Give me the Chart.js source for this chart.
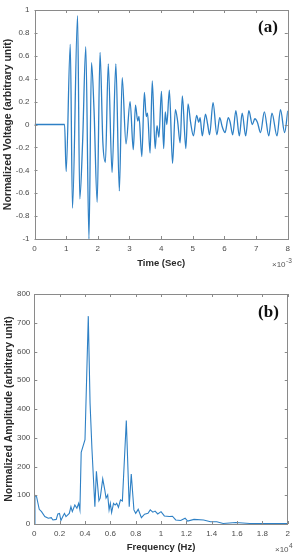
<!DOCTYPE html>
<html lang="en">
<head>
    <meta charset="UTF-8"/>
    <script src="https://cdn.jsdelivr.net/npm/chart.js@4.4.0/dist/chart.umd.min.js"></script>
    <title>signal</title>
    <style>
        body { margin: 0; background: #fff; }
        canvas { display: block; }
    </style>
</head>
<body>
<canvas id="timeChart" width="295" height="275"></canvas>
<canvas id="freqChart" width="295" height="279"></canvas>

<script>
    // (a) time signal, time in units of 1e-3 s
    const timeMs = [0, 0.95, 1.00, 1.13, 1.20, 1.36, 1.43, 1.52, 1.62, 1.72, 1.80, 1.88, 1.98, 2.07, 2.16, 2.24,
        2.33, 2.45, 2.57, 2.68, 2.77, 2.89, 3.02, 3.12, 3.19, 3.26, 3.30, 3.39, 3.47, 3.53, 3.57, 3.65,
        3.72, 3.81, 3.87, 3.93, 4.01, 4.08, 4.13, 4.18, 4.26, 4.36, 4.45, 4.52, 4.60, 4.67, 4.78, 4.85,
        4.93, 5.02, 5.12, 5.19, 5.23, 5.30, 5.40, 5.47, 5.53, 5.64, 5.76, 5.85, 5.93, 6.02, 6.12, 6.18,
        6.26, 6.36, 6.47, 6.56, 6.67, 6.77, 6.88, 6.96, 7.04, 7.14, 7.26, 7.40, 7.50, 7.66, 7.77, 7.90, 8.0];
    const voltage = [0, 0, -0.41, 0.70, -0.73, 0.95, -0.65, -0.15, 0.68, -1.0, 0.54, 0.13, -0.68, 0.63, -0.16, -0.33,
        0.53, -0.42, 0.53, -0.58, 0.41, -0.17, 0.20, -0.22, 0.17, 0.03, 0.07, -0.28, 0.28, 0.07, 0.10, -0.25,
        0.38, -0.21, -0.01, -0.11, 0.29, -0.21, 0.11, 0.0, 0.30, -0.34, 0.13, 0.03, -0.16, 0.25, -0.21, 0.18,
        0.02, -0.10, 0.08, 0.02, 0.06, -0.10, 0.09, 0.0, -0.09, 0.19, -0.09, 0.06, -0.02, -0.07, 0.06, 0.02,
        -0.09, 0.12, -0.10, 0.10, -0.10, 0.12, 0.0, 0.05, 0.02, -0.07, 0.11, -0.10, 0.10, -0.10, 0.13, -0.07, 0.12];
    const timeTicks = [0, 1, 2, 3, 4, 5, 6, 7, 8];
    const voltTicks = [-1, -0.8, -0.6, -0.4, -0.2, 0, 0.2, 0.4, 0.6, 0.8, 1];

    // (b) spectrum, frequency in units of 1e4 Hz
    const freq = [0, 0.005, 0.018, 0.039, 0.057, 0.083, 0.11, 0.134, 0.147, 0.173, 0.186, 0.199, 0.21, 0.225, 0.238,
        0.25, 0.276, 0.289, 0.30, 0.32, 0.336, 0.35, 0.36, 0.37, 0.40, 0.426, 0.44, 0.455, 0.478, 0.49,
        0.51, 0.52, 0.54, 0.556, 0.566, 0.579, 0.59, 0.60, 0.61, 0.625, 0.638, 0.65, 0.664, 0.68, 0.695,
        0.726, 0.749, 0.765, 0.786, 0.80, 0.82, 0.845, 0.87, 0.897, 0.915, 0.935, 0.953, 0.974, 1.0,
        1.026, 1.065, 1.09, 1.116, 1.155, 1.19, 1.21, 1.26, 1.336, 1.39, 1.44, 1.49, 1.59, 1.70, 1.80, 2.0];
    const amplitude = [0, 100, 95, 51, 43, 26, 20, 22, 14, 16, 35, 37, 12, 26, 37,
        26, 37, 60, 43, 66, 55, 72, 49, 249, 293, 723, 420, 260, 60, 183,
        81, 90, 157, 119, 90, 101, 49, 72, 40, 72, 66, 72, 58, 84, 80,
        360, 60, 174, 49, 37, 51, 22, 34, 37, 49, 41, 45, 35, 43,
        28, 26, 27, 14, 12, 20, 10, 16, 14, 8, 8, 2, 5, 2, 2, 2];
    const freqTicks = [0, 0.2, 0.4, 0.6, 0.8, 1, 1.2, 1.4, 1.6, 1.8, 2];
    const ampTicks = [0, 100, 200, 300, 400, 500, 600, 700, 800];

    const lineBlue = '#2e80c5';
    const tickFont = {family: 'Liberation Sans', size: 8};
    const xTitleFont = {family: 'Liberation Sans', size: 9.5, weight: 'bold'};
    const yTitleFont = {family: 'Liberation Sans', size: 10.5, weight: 'bold'};

    // matlab style box, inward ticks, panel letter and axis exponent
    const matlabBox = {
        id: 'matlabBox',
        afterDraw(chart, args, opts) {
            const {ctx, chartArea: a, scales: {x, y}} = chart;
            ctx.save();
            ctx.strokeStyle = '#8a8a8a';
            ctx.lineWidth = 1;
            ctx.strokeRect(Math.round(a.left) + 0.5, Math.round(a.top) + 0.5,
                Math.round(a.right - a.left), Math.round(a.bottom - a.top));
            ctx.beginPath();
            x.ticks.forEach(t => {
                const px = Math.round(x.getPixelForValue(t.value)) + 0.5;
                ctx.moveTo(px, a.bottom); ctx.lineTo(px, a.bottom - 3);
                ctx.moveTo(px, a.top); ctx.lineTo(px, a.top + 3);
            });
            y.ticks.forEach(t => {
                const py = Math.round(y.getPixelForValue(t.value)) + 0.5;
                ctx.moveTo(a.left, py); ctx.lineTo(a.left + 3, py);
                ctx.moveTo(a.right, py); ctx.lineTo(a.right - 3, py);
            });
            ctx.stroke();

            ctx.fillStyle = '#111';
            ctx.font = 'bold 17px "Liberation Serif"';
            ctx.textAlign = 'center';
            ctx.textBaseline = 'middle';
            ctx.fillText(opts.label, opts.labelX, opts.labelY);

            ctx.fillStyle = '#555';
            ctx.textAlign = 'left';
            ctx.textBaseline = 'alphabetic';
            ctx.font = '8px "Liberation Sans"';
            ctx.fillText('\u00d710', opts.expX, opts.expY);
            const w = ctx.measureText('\u00d710').width;
            ctx.font = '6.5px "Liberation Sans"';
            ctx.fillText(opts.exp, opts.expX + w + 0.5, opts.expY - 4);
            ctx.restore();
        }
    };

    function makeChart(id, xs, ys, cfg) {
        const pts = xs.map((v, i) => ({x: v, y: ys[i]}));
        return new Chart(document.getElementById(id), {
            type: 'line',
            data: {
                datasets: [{
                    data: pts,
                    borderColor: lineBlue,
                    borderWidth: cfg.lineWidth,
                    pointRadius: 0,
                    fill: false,
                    cubicInterpolationMode: cfg.smooth ? 'monotone' : 'default',
                    tension: 0
                }]
            },
            options: {
                responsive: false,
                animation: false,
                events: [],
                layout: {padding: cfg.padding},
                plugins: {
                    legend: {display: false},
                    tooltip: {enabled: false},
                    matlabBox: cfg.box
                },
                scales: {
                    x: {
                        type: 'linear',
                        min: cfg.xTicks[0],
                        max: cfg.xTicks[cfg.xTicks.length - 1],
                        grid: {display: false, drawTicks: false},
                        border: {display: false},
                        afterBuildTicks: s => { s.ticks = cfg.xTicks.map(v => ({value: v})); },
                        afterFit: s => { s.height = cfg.xHeight; },
                        ticks: {
                            font: tickFont, color: '#4a4a4a', padding: 5, maxRotation: 0,
                            autoSkip: false,
                            callback: v => String(v)
                        },
                        title: {display: true, text: cfg.xTitle, font: xTitleFont, color: '#2a2a2a', padding: 0}
                    },
                    y: {
                        min: cfg.yTicks[0],
                        max: cfg.yTicks[cfg.yTicks.length - 1],
                        grid: {display: false, drawTicks: false},
                        border: {display: false},
                        afterBuildTicks: s => { s.ticks = cfg.yTicks.map(v => ({value: v})); },
                        afterFit: s => { s.width = cfg.yWidth; },
                        ticks: {
                            font: tickFont, color: '#4a4a4a', padding: cfg.yPad,
                            autoSkip: false,
                            callback: v => String(v)
                        },
                        title: {display: true, text: cfg.yTitle, font: yTitleFont, color: '#2a2a2a', padding: 0}
                    }
                }
            },
            plugins: [matlabBox]
        });
    }

    makeChart('timeChart', timeMs, voltage, {
        smooth: true,
        lineWidth: 1.3,
        padding: {top: 10, right: 3, left: 2, bottom: 6},
        xHeight: 30,
        yWidth: 32.5,
        yPad: 5,
        xTicks: timeTicks,
        yTicks: voltTicks,
        xTitle: 'Time (Sec)',
        yTitle: 'Normalized Voltage (arbitrary unit)',
        box: {label: '(a)', labelX: 268, labelY: 28, exp: '-3', expX: 272, expY: 266.5}
    });

    makeChart('freqChart', freq, amplitude, {
        smooth: false,
        lineWidth: 1.1,
        padding: {top: 19, right: 2.7, left: 2.4, bottom: 1},
        xHeight: 29,
        yWidth: 31.9,
        yPad: 4,
        xTicks: freqTicks,
        yTicks: ampTicks,
        xTitle: 'Frequency (Hz)',
        yTitle: 'Normalized Amplitude (arbitrary unit)',
        box: {label: '(b)', labelX: 268.5, labelY: 38, exp: '4', expX: 275, expY: 276.5}
    });
</script>
</body>
</html>
